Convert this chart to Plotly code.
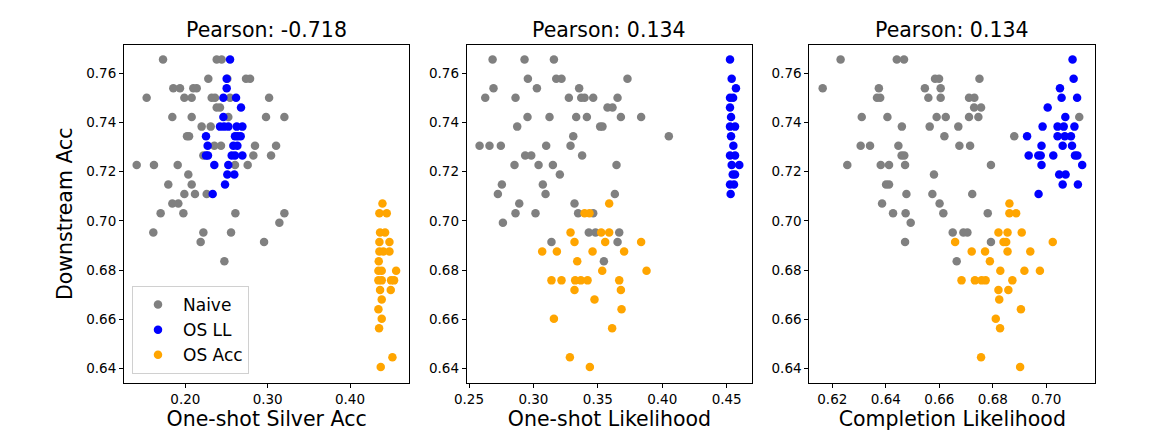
import plotly.graph_objects as go

# ---------------- data (rows: (downstream acc, [x values])) ----------------
SERIES_NAMES = ["Naive", "OS LL", "OS Acc"]
SERIES_COLORS = ["#808080", "#0000ff", "#ffa500"]
TITLES = ["Pearson: -0.718", "Pearson: 0.134", "Pearson: 0.134"]
X_LABELS = ["One-shot Silver Acc", "One-shot Likelihood", "Completion Likelihood"]
Y_LABEL = "Downstream Acc"

X_TICKS = [[0.20, 0.30, 0.40], [0.25, 0.30, 0.35, 0.40, 0.45], [0.62, 0.64, 0.66, 0.68, 0.70]]
Y_TICKS = [0.64, 0.66, 0.68, 0.70, 0.72, 0.74, 0.76]

# Panel 1: One-shot Silver Acc
p1_naive = [
    (0.7656, [0.1729, 0.2381, 0.2441]),
    (0.7578, [0.2279, 0.2510, 0.2737, 0.2786]),
    (0.7539, [0.1854, 0.1935, 0.2097, 0.2138]),
    (0.7500, [0.1530, 0.1988, 0.2077, 0.2320, 0.2360, 0.2543, 0.3017]),
    (0.7461, [0.2381, 0.2421]),
    (0.7422, [0.1842, 0.2077, 0.2522, 0.2980, 0.3203]),
    (0.7383, [0.2198, 0.2308]),
    (0.7344, [0.2020, 0.2045]),
    (0.7305, [0.2352, 0.2433, 0.2846, 0.3102]),
    (0.7266, [0.2219, 0.2826, 0.3041]),
    (0.7227, [0.1409, 0.1619, 0.1907, 0.2603, 0.2757]),
    (0.7188, [0.2036]),
    (0.7148, [0.1793, 0.2077]),
    (0.7109, [0.1988, 0.2117, 0.2259]),
    (0.7070, [0.1842, 0.1915]),
    (0.7031, [0.1700, 0.1976, 0.2608, 0.3203]),
    (0.6992, [0.3142]),
    (0.6953, [0.1611, 0.2219, 0.2555]),
    (0.6914, [0.2186, 0.2956]),
    (0.6836, [0.2474]),
]
p1_osll = [
    (0.7656, [0.2543]),
    (0.7578, [0.2502]),
    (0.7539, [0.2502]),
    (0.7500, [0.2462, 0.2616]),
    (0.7461, [0.2676]),
    (0.7422, [0.2462]),
    (0.7383, [0.2421, 0.2470, 0.2522, 0.2624, 0.2693]),
    (0.7344, [0.2251, 0.2603, 0.2636, 0.2672]),
    (0.7305, [0.2271, 0.2583, 0.2632]),
    (0.7266, [0.2251, 0.2275, 0.2563, 0.2603, 0.2693]),
    (0.7227, [0.2352, 0.2522]),
    (0.7188, [0.2510, 0.2595]),
    (0.7148, [0.2482]),
    (0.7109, [0.2332]),
]
p1_osacc = [
    (0.7070, [0.4394]),
    (0.7031, [0.4357, 0.4446]),
    (0.6953, [0.4365, 0.4426]),
    (0.6914, [0.4357, 0.4479]),
    (0.6875, [0.4357, 0.4405, 0.4479]),
    (0.6836, [0.4349]),
    (0.6797, [0.4345, 0.4385, 0.4560]),
    (0.6758, [0.4345, 0.4385, 0.4499, 0.4535]),
    (0.6719, [0.4365, 0.4495]),
    (0.6680, [0.4385]),
    (0.6641, [0.4345]),
    (0.6602, [0.4385]),
    (0.6563, [0.4353]),
    (0.6445, [0.4515]),
    (0.6406, [0.4373]),
]

# Panel 2: One-shot Likelihood
p2_naive = [
    (0.7656, [0.2683, 0.2931, 0.3159]),
    (0.7578, [0.2957, 0.3177, 0.3218, 0.3730]),
    (0.7539, [0.2690, 0.3027, 0.3355]),
    (0.7500, [0.2626, 0.2861, 0.3275, 0.3371, 0.3397, 0.3464, 0.3653]),
    (0.7461, [0.3575, 0.3614]),
    (0.7422, [0.2954, 0.3125, 0.3332, 0.3415, 0.3679, 0.3836]),
    (0.7383, [0.2874, 0.3518, 0.3536]),
    (0.7344, [0.3309, 0.4051]),
    (0.7305, [0.2582, 0.2659, 0.2747, 0.3099, 0.3288]),
    (0.7266, [0.2936, 0.2983, 0.3378]),
    (0.7227, [0.2853, 0.3040, 0.3151, 0.3645]),
    (0.7188, [0.3205]),
    (0.7148, [0.2755, 0.3073]),
    (0.7109, [0.2724, 0.3094, 0.3632]),
    (0.7070, [0.2890, 0.3319]),
    (0.7031, [0.2861, 0.3016, 0.3347, 0.3464]),
    (0.6992, [0.2763]),
    (0.6953, [0.3430, 0.3482, 0.3666]),
    (0.6914, [0.3140, 0.3653]),
    (0.6836, [0.3547]),
]
p2_osll = [
    (0.7656, [0.4526]),
    (0.7578, [0.4539]),
    (0.7539, [0.4572]),
    (0.7500, [0.4526, 0.4550]),
    (0.7461, [0.4526]),
    (0.7422, [0.4534]),
    (0.7383, [0.4526, 0.4565]),
    (0.7344, [0.4534]),
    (0.7305, [0.4552]),
    (0.7266, [0.4526, 0.4565]),
    (0.7227, [0.4539, 0.4598]),
    (0.7188, [0.4547, 0.4565]),
    (0.7148, [0.4526, 0.4557]),
    (0.7109, [0.4531]),
]
p2_osacc = [
    (0.7070, [0.3588]),
    (0.7031, [0.3397, 0.3435]),
    (0.6953, [0.3288, 0.3526, 0.3588]),
    (0.6914, [0.3319, 0.3557, 0.3836]),
    (0.6875, [0.3068, 0.3182, 0.3459, 0.3704]),
    (0.6836, [0.3340]),
    (0.6797, [0.3534, 0.3878]),
    (0.6758, [0.3140, 0.3218, 0.3324, 0.3368, 0.3420, 0.3666]),
    (0.6719, [0.3319, 0.3679]),
    (0.6680, [0.3474]),
    (0.6641, [0.3684]),
    (0.6602, [0.3159]),
    (0.6563, [0.3611]),
    (0.6445, [0.3283]),
    (0.6406, [0.3438]),
]

# Panel 3: Completion Likelihood
p3_naive = [
    (0.7656, [0.6231, 0.6441, 0.6468]),
    (0.7578, [0.6584, 0.6599, 0.6750]),
    (0.7539, [0.6164, 0.6374, 0.6546, 0.6605]),
    (0.7500, [0.6367, 0.6379, 0.6559, 0.6605, 0.6711, 0.6731]),
    (0.7461, [0.6730, 0.6756]),
    (0.7422, [0.6310, 0.6406, 0.6590, 0.6624, 0.6711, 0.6746, 0.7123]),
    (0.7383, [0.6460, 0.6564, 0.6671]),
    (0.7344, [0.6619, 0.6880]),
    (0.7305, [0.6306, 0.6341, 0.6447, 0.6675, 0.6715]),
    (0.7266, [0.6459, 0.6469]),
    (0.7227, [0.6256, 0.6381, 0.6412, 0.6472, 0.6793]),
    (0.7188, [0.6580]),
    (0.7148, [0.6401, 0.6412]),
    (0.7109, [0.6477, 0.6574, 0.6723]),
    (0.7070, [0.6386, 0.6601]),
    (0.7031, [0.6427, 0.6474, 0.6615, 0.6781]),
    (0.6992, [0.6493]),
    (0.6953, [0.6650, 0.6690, 0.6705]),
    (0.6914, [0.6472, 0.6793]),
    (0.6836, [0.6665]),
]
p3_osll = [
    (0.7656, [0.7098]),
    (0.7578, [0.7102]),
    (0.7539, [0.7051]),
    (0.7500, [0.7057, 0.7115]),
    (0.7461, [0.7005]),
    (0.7422, [0.7071]),
    (0.7383, [0.6986, 0.7042, 0.7065, 0.7105]),
    (0.7344, [0.6928, 0.7042, 0.7069, 0.7092]),
    (0.7305, [0.6982, 0.7061, 0.7096]),
    (0.7266, [0.6934, 0.6970, 0.6979, 0.7026, 0.7107, 0.7116]),
    (0.7227, [0.6982, 0.7134]),
    (0.7188, [0.7048, 0.7072]),
    (0.7148, [0.7061, 0.7118]),
    (0.7109, [0.6971]),
]
p3_osacc = [
    (0.7070, [0.6862]),
    (0.7031, [0.6862, 0.6887]),
    (0.6953, [0.6821, 0.6855, 0.6908]),
    (0.6914, [0.6659, 0.6840, 0.6850, 0.7024]),
    (0.6875, [0.6721, 0.6771, 0.6855, 0.6940]),
    (0.6836, [0.6789]),
    (0.6797, [0.6828, 0.6918, 0.6976]),
    (0.6758, [0.6683, 0.6733, 0.6758, 0.6773, 0.6873]),
    (0.6719, [0.6821, 0.6858]),
    (0.6680, [0.6824]),
    (0.6641, [0.6905]),
    (0.6602, [0.6811]),
    (0.6563, [0.6827]),
    (0.6445, [0.6756]),
    (0.6406, [0.6902]),
]

PANELS = [
    [p1_naive, p1_osll, p1_osacc],
    [p2_naive, p2_osll, p2_osacc],
    [p3_naive, p3_osll, p3_osacc],
]

# ---------------- layout constants ----------------
W, H = 1172, 431
FONT = "DejaVu Sans"
X_DOMAINS = [(124 / W, 409.3 / W), (466.7 / W, 752.3 / W), (809.3 / W, 1095.3 / W)]
Y_DOMAIN = (1 - 382.7 / H, 1 - 44.7 / H)
X_RANGES = [(0.1255, 0.472), (0.2482, 0.4699), (0.6114, 0.7183)]
Y_RANGE = (0.6342, 0.7716)


def flatten(rows):
    xs, ys = [], []
    for yv, xvals in rows:
        for xv in xvals:
            xs.append(xv)
            ys.append(yv)
    return xs, ys


fig = go.Figure()
for p, panel in enumerate(PANELS):
    xa = "x" if p == 0 else f"x{p + 1}"
    ya = "y" if p == 0 else f"y{p + 1}"
    for s, rows in enumerate(panel):
        xs, ys = flatten(rows)
        fig.add_trace(go.Scatter(
            x=xs, y=ys, mode="markers", name=SERIES_NAMES[s],
            marker=dict(color=SERIES_COLORS[s], size=8.5, line=dict(width=0)),
            xaxis=xa, yaxis=ya, showlegend=(p == 0), legendgroup=SERIES_NAMES[s],
        ))

axis_common = dict(
    showline=True, mirror=True, linecolor="black", linewidth=1,
    ticks="outside", ticklen=4, tickwidth=1, tickcolor="black",
    showgrid=False, zeroline=False, tickformat=".2f", automargin=False,
    tickfont=dict(family=FONT, size=13.5, color="black"),
)

layout = dict(
    width=W, height=H, autosize=False,
    margin=dict(l=0, r=0, t=0, b=0, autoexpand=False),
    paper_bgcolor="white", plot_bgcolor="white",
    font=dict(family=FONT, color="black"),
    legend=dict(
        x=132 / W, y=1 - 374 / H, xanchor="left", yanchor="bottom",
        bgcolor="rgba(255,255,255,0.8)", bordercolor="#d0d0d0", borderwidth=1,
        font=dict(family=FONT, size=17, color="black"),
        traceorder="grouped", tracegroupgap=0, itemwidth=40,
        entrywidth=92, entrywidthmode="pixels",
    ),
)
annotations = []
for p in range(3):
    xk = "xaxis" if p == 0 else f"xaxis{p + 1}"
    yk = "yaxis" if p == 0 else f"yaxis{p + 1}"
    ya_name = "y" if p == 0 else f"y{p + 1}"
    xa_name = "x" if p == 0 else f"x{p + 1}"
    layout[xk] = dict(
        axis_common, domain=list(X_DOMAINS[p]), range=list(X_RANGES[p]),
        tickvals=X_TICKS[p], anchor=ya_name,
        title=dict(text=X_LABELS[p], font=dict(family=FONT, size=20.5, color="black"), standoff=6),
    )
    ydict = dict(
        axis_common, domain=list(Y_DOMAIN), range=list(Y_RANGE),
        tickvals=Y_TICKS, anchor=xa_name,
    )
    if p == 0:
        ydict["title"] = dict(text=Y_LABEL, font=dict(family=FONT, size=20.5, color="black"), standoff=8)
    layout[yk] = ydict
    annotations.append(dict(
        text=TITLES[p], xref="paper", yref="paper",
        x=(X_DOMAINS[p][0] + X_DOMAINS[p][1]) / 2, y=Y_DOMAIN[1],
        xanchor="center", yanchor="bottom", yshift=1, showarrow=False,
        font=dict(family=FONT, size=20.5, color="black"),
    ))
layout["annotations"] = annotations
fig.update_layout(**layout)

fig.write_html(
    "out.html",
    config={"displayModeBar": False},
    post_script="document.body.style.margin='0';document.body.style.overflow='hidden';",
)
